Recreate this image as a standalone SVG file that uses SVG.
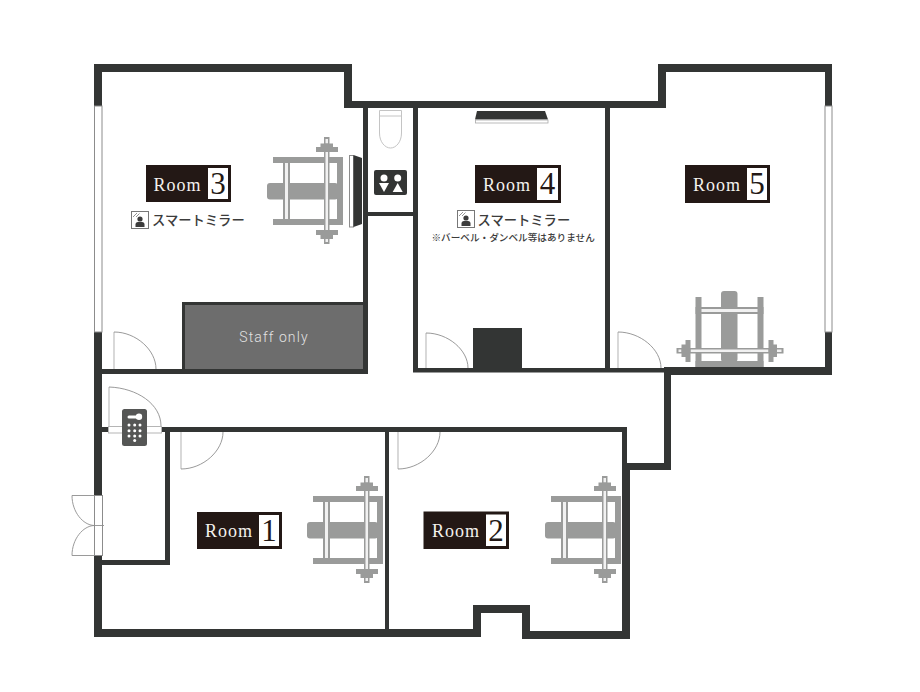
<svg xmlns="http://www.w3.org/2000/svg" xmlns:xlink="http://www.w3.org/1999/xlink" width="920" height="692" viewBox="0 0 920 692">
<style>
.w{fill:#333534}
.glass{fill:#fff;stroke:#8c8c8c;stroke-width:1}
.leaf{fill:none;stroke:#c4c4c4;stroke-width:1.3}
.arc{fill:none;stroke:#8f8f8f;stroke-width:.9}
.g{fill:#9a9b9a}
.hl{fill:#f1f1f1}
.tag{fill:#231815}
.tagw{fill:#fff}
.rm{font-family:"Liberation Serif",serif;font-size:18px;letter-spacing:1px;fill:#f4f1ee}
.num{font-family:"Liberation Serif",serif;font-size:31px;fill:#231815;text-anchor:middle}
.jp{font-family:"Noto Sans CJK JP",sans-serif;font-weight:500;fill:#3c3c3c}
.st{font-family:Roboto,sans-serif;font-weight:300;font-size:14px;letter-spacing:1.1px;fill:#e2e2e2;text-anchor:middle}
</style>
<defs>
<g id="rack">
<rect class="g" x="273" y="157" width="70" height="6"/>
<rect class="g" x="273" y="219" width="70" height="6"/>
<rect class="g" x="337" y="157" width="6" height="68"/>
<rect class="g" x="267" y="183" width="71" height="16.500" rx="3"/>
<rect class="g" x="283" y="157" width="7" height="68"/>
<rect class="hl" x="285" y="163" width="3" height="56"/>
<rect class="g" x="324" y="137" width="5.500" height="107"/>
<path class="hl" d="M325.500 139h2.500v4.500h-2.500zM325.500 152h2.500v78h-2.500zM325.500 239h2.500v3h-2.500z"/>
<path class="g" d="M320.500 143.500h12.500v3.500h5v5h-22v-5h4.500zM316 230h22v5h-5v4h-12.500v-4h-4.500z"/>
</g>
<g id="mirror">
<rect width="17" height="17" x=".5" y=".5" fill="#fff" stroke="#777" stroke-width="1"/>
<path d="M2 6 6 2M5 6 8.500 2.500" stroke="#777" stroke-width=".8" fill="none"/>
<circle cx="9" cy="8" r="2.600" fill="#3c3c3c"/>
<path d="M4.500 16v-2.500q0-2.500 2.500-2.500h4q2.500 0 2.500 2.500V16z" fill="#3c3c3c"/>
</g>
</defs>
<rect width="920" height="692" fill="#fff"/>

<g id="connectors"></g>

<g id="walls">
<rect x="183" y="303" width="183" height="68" fill="#6d6d6d"/>
<rect class="w" x="94" y="64" width="258" height="8"/>
<rect class="w" x="94" y="64" width="8" height="573"/>
<rect class="w" x="344" y="64" width="8" height="44"/>
<rect class="w" x="344" y="101" width="322" height="7"/>
<rect class="w" x="658" y="64" width="8" height="44"/>
<rect class="w" x="658" y="64" width="174" height="8"/>
<rect class="w" x="825" y="64" width="7" height="311"/>
<rect class="w" x="664" y="367" width="168" height="8"/>
<rect class="w" x="664" y="367" width="7" height="103"/>
<rect class="w" x="622" y="463" width="49" height="7"/>
<rect class="w" x="622" y="463" width="8" height="176"/>
<rect class="w" x="522" y="631" width="108" height="8"/>
<rect class="w" x="522" y="605" width="8" height="34"/>
<rect class="w" x="473" y="605" width="57" height="8"/>
<rect class="w" x="473" y="605" width="8" height="32"/>
<rect class="w" x="94" y="629" width="387" height="8"/>
<rect class="w" x="363" y="108" width="5" height="266"/>
<rect class="w" x="102" y="369" width="266" height="5"/>
<rect class="w" x="413" y="108" width="5" height="264"/>
<rect class="w" x="413" y="368" width="251" height="4.500"/>
<rect class="w" x="605" y="108" width="5" height="262"/>
<rect class="w" x="368" y="212" width="45" height="4"/>
<rect class="w" x="102" y="427" width="525" height="5"/>
<rect class="w" x="622" y="427" width="5" height="40"/>
<rect class="w" x="165" y="427" width="5" height="138"/>
<rect class="w" x="102" y="560" width="68" height="5"/>
<rect class="w" x="385" y="427" width="4" height="205"/>
<rect class="w" x="182" y="302" width="186" height="3"/>
<rect class="w" x="182" y="302" width="3" height="70"/>
</g>

<g id="windows">
<rect class="glass" x="94.500" y="106" width="7.500" height="226"/>
<rect class="glass" x="825" y="106" width="7" height="226"/>
</g>

<g id="doors">
<path class="leaf" d="M114 369V332"/><path class="arc" d="M114 332C136 332 156 350 156 369"/>
<path class="leaf" d="M426 368V333"/><path class="arc" d="M426 333C448 333 468 350 468 368"/>
<path class="leaf" d="M618 368V332"/><path class="arc" d="M618 332C640 332 661 349 661 368"/>
<path class="leaf" d="M181 432V469"/><path class="arc" d="M181 469C203 469 223 451 223 432"/>
<path class="leaf" d="M398 432V469"/><path class="arc" d="M398 469C420 469 440 451 440 432"/>
<rect x="108.500" y="426.500" width="53" height="6.500" fill="#fff" stroke="#b5b5b5"/>
<path class="leaf" d="M109 426V387"/><path class="arc" d="M109 387C137 388 161 404 161 426"/>
<rect x="94.500" y="495.500" width="8" height="60" fill="#fff" stroke="#8c8c8c"/>
<path class="arc" d="M94.500 525.500H104M94 495.500H72C72 512 83 525 94 525.500C83 526 72 539 72 555.500H94"/>
</g>

<g id="fixtures">
<rect x="473" y="328" width="49" height="41" fill="#333534"/>
<path d="M477 111H545L548 119.500H475Z" fill="#333534"/>
<rect x="475.500" y="120" width="72.500" height="3" fill="#fff" stroke="#aaa" stroke-width=".8"/>
<rect x="349.500" y="155.500" width="4" height="71.500" fill="#fff" stroke="#8c8c8c"/>
<path d="M353.500 155L362 158V224L353.500 227Z" fill="#333534"/>
<path d="M379.500 110.500H401.500V116H379.500ZM379.500 116V133C379.500 142 385 148 390.500 148C396 148 401.500 142 401.500 133V116" fill="#fff" stroke="#c4c4c4"/>
<g id="wc-sign">
<rect x="374" y="170" width="33" height="25" rx="2" fill="#333534"/>
<circle cx="384" cy="178" r="3.500" fill="#fff"/>
<path d="M379 183H389L384 192Z" fill="#fff"/>
<circle cx="397.700" cy="178" r="3.500" fill="#fff"/>
<path d="M397.700 183L402.700 192H392.700Z" fill="#fff"/>
</g>
<g id="keypad">
<rect x="122" y="409" width="25" height="37" rx="2.500" fill="#555655"/>
<rect x="127.500" y="415.500" width="12" height="3" rx="1.500" fill="#fff"/>
<circle cx="139" cy="416.700" r="3.200" fill="#fff"/>
<g fill="#fff"><circle cx="129" cy="425" r="1.500"/><circle cx="134.700" cy="425" r="1.500"/><circle cx="140" cy="425" r="1.500"/><circle cx="129" cy="430.700" r="1.500"/><circle cx="134.700" cy="430.700" r="1.500"/><circle cx="140" cy="430.700" r="1.500"/><circle cx="129" cy="436" r="1.500"/><circle cx="134.700" cy="436" r="1.500"/><circle cx="140" cy="436" r="1.500"/><circle cx="134.700" cy="440.500" r="1.500"/></g>
</g>
</g>

<g id="equipment">
<use href="#rack" xlink:href="#rack"/>
<use href="#rack" xlink:href="#rack" transform="translate(40 339)"/>
<use href="#rack" xlink:href="#rack" transform="translate(278 339)"/>
<use href="#rack" xlink:href="#rack" transform="matrix(0 1 -1 0 920.500 24)"/>
</g>

<g id="room3">
<rect class="tag" x="146" y="165" width="85" height="37"/><rect class="tagw" x="208" y="168" width="20" height="31"/>
<text class="rm" x="153.500" y="190.500">Room</text><text class="num" x="218" y="194">3</text>
<use href="#mirror" xlink:href="#mirror" x="131" y="211"/>
<text class="jp" x="152" y="225" font-size="13.300">スマートミラー</text>
</g>
<g id="room4">
<rect class="tag" x="475" y="165" width="86" height="38"/><rect class="tagw" x="537" y="168" width="21" height="32"/>
<text class="rm" x="483" y="190.500">Room</text><text class="num" x="547.500" y="194">4</text>
<use href="#mirror" xlink:href="#mirror" x="457" y="210"/>
<text class="jp" x="477.500" y="225" font-size="13.300">スマートミラー</text>
<text class="jp" x="431.500" y="241" font-size="9.650">※バーベル・ダンベル等はありません</text>
</g>
<g id="room5">
<rect class="tag" x="685" y="165" width="85" height="38"/><rect class="tagw" x="747" y="168" width="20" height="32"/>
<text class="rm" x="693" y="190.500">Room</text><text class="num" x="757" y="194">5</text>
</g>
<g id="room1">
<rect class="tag" x="197" y="512" width="85" height="37"/><rect class="tagw" x="259" y="515" width="20" height="31"/>
<text class="rm" x="205" y="537">Room</text><text class="num" x="269" y="541">1</text>
</g>
<g id="room2">
<rect class="tag" x="423.500" y="511.500" width="85.500" height="37.500"/><rect class="tagw" x="486" y="514.500" width="20" height="31.500"/>
<text class="rm" x="432" y="537">Room</text><text class="num" x="496" y="541">2</text>
</g>
<g id="staff-only">
<text class="st" x="274" y="342">Staff only</text>
</g>
</svg>
